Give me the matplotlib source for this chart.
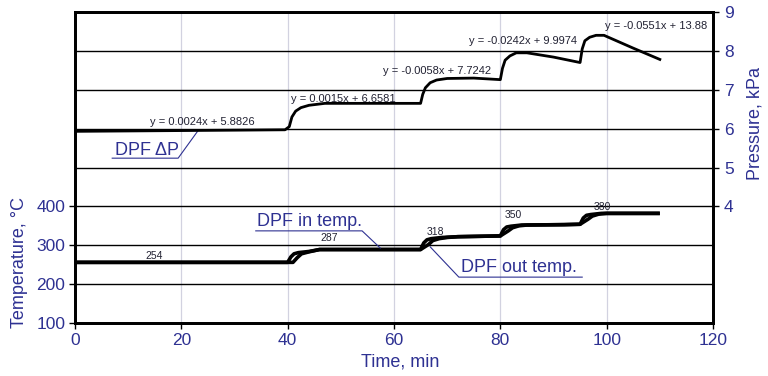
import matplotlib.pyplot as plt

plt.rcParams['font.family'] = ['Liberation Sans', 'DejaVu Sans']

navy = '#2E3192'

# DPF pressure drop, kPa
time_p = [0, 10, 20, 30, 39.5, 40.3, 40.8, 41.5, 42.5, 44, 47, 55, 60, 65,
          65.4, 65.9, 66.8, 68, 70, 75, 80, 80.4, 80.9, 81.8, 83, 85, 90, 95,
          95.4, 95.9, 96.8, 98, 99.5, 105, 110]
pressure = [5.93, 5.94, 5.95, 5.96, 5.97, 6.05, 6.30, 6.45, 6.54, 6.60, 6.65, 6.65, 6.65, 6.65,
            6.88, 7.05, 7.18, 7.25, 7.29, 7.30, 7.26, 7.55, 7.76, 7.87, 7.95, 7.95, 7.84, 7.70,
            8.05, 8.26, 8.35, 8.40, 8.40, 8.07, 7.78]

# DPF inlet / outlet temperature, C
time_in = [0, 40, 40.6, 41.2, 42, 44, 46, 65, 65.6, 66.2, 67, 69, 72, 80, 80.6,
           81.2, 82, 84, 92, 95, 95.6, 96.2, 97, 99, 110]
temp_in = [256, 256, 270, 278, 281, 284, 289, 289, 306, 314, 317, 320, 322, 324, 340,
           347, 349, 352, 353, 354, 370, 377, 379, 382, 382]
time_out = [0, 41, 41.8, 42.6, 44, 46, 65, 66.5, 67.3, 68.5, 70, 72, 80, 81.5, 82.3,
            83.5, 85, 92, 95, 96.5, 97.3, 98.5, 100, 110]
temp_out = [256, 256, 268, 278, 283, 289, 289, 302, 312, 317, 320, 322, 324, 337, 345,
            350, 352, 353, 354, 367, 375, 380, 382, 382]

# trend line equations for each pressure step
eq_text = ['y = 0.0024x + 5.8826', 'y = 0.0015x + 6.6581', 'y = -0.0058x + 7.7242',
           'y = -0.0242x + 9.9974', 'y = -0.0551x + 13.88']
eq_pos = [(24.0, 6.17), (50.4, 6.76), (68.1, 7.48), (84.3, 8.25), (109.3, 8.64)]

# plateau temperature labels
temp_labels = ['254', '287', '318', '350', '380']
temp_label_pos = [(14.8, 272), (47.8, 319), (67.7, 334), (82.4, 378), (99.1, 398)]

fig = plt.figure(figsize=(7.68, 3.76), dpi=100)
ax = fig.add_axes([75 / 768, 53 / 376, 638 / 768, 311 / 376])
ax2 = ax.twinx()

ax.set_xlim(0, 120)
ax.set_ylim(100, 900)
ax2.set_ylim(1, 9)

# temperature traces
ax.plot(time_out, temp_out, color='black', lw=2.6, solid_capstyle='butt')
ax.plot(time_in, temp_in, color='black', lw=2.6, solid_capstyle='butt')

# pressure trace
ax2.plot(time_p, pressure, color='black', lw=2)

# ticks and grid
ax.set_xticks(range(0, 121, 20))
ax.set_yticks([100, 200, 300, 400])
ax.set_yticks([500, 600, 700, 800, 900], minor=True)
ax.grid(axis='y', which='both', color='black', lw=1)
ax.grid(axis='x', color='#d2d2e0', lw=0.9)
ax.tick_params(axis='y', which='minor', length=0)
ax.tick_params(axis='both', which='major', direction='out', length=4, width=1,
               labelsize=12.5, labelcolor=navy, pad=3)
ax2.set_yticks([4, 5, 6, 7, 8, 9])
ax2.tick_params(axis='y', direction='out', length=4, width=1, labelsize=12.5,
                labelcolor=navy, pad=4)
ax.set_axisbelow(True)

for a in (ax, ax2):
    for s in a.spines.values():
        s.set_linewidth(2)
        s.set_color('black')

# equations and value labels
for txt, (x, y) in zip(eq_text, eq_pos):
    ax2.text(x, y, txt, fontsize=8, ha='center', va='center', color='#222233')
for txt, (x, y) in zip(temp_labels, temp_label_pos):
    ax.text(x, y, txt, fontsize=7.5, ha='center', va='center', color='#222233')

# series callouts with underline leaders
ax.text(7.5, 545, 'DPF \u0394P', fontsize=13, color=navy, va='center')
ax.plot([7.0, 19.4, 23.1], [524, 524, 594], color=navy, lw=0.8)
ax.text(34.2, 360, 'DPF in temp.', fontsize=13, color=navy, va='center')
ax.plot([34.0, 54.0, 57.4], [337, 337, 293], color=navy, lw=0.8)
ax.text(72.6, 244, 'DPF out temp.', fontsize=13, color=navy, va='center')
ax.plot([95.4, 72.2, 66.8], [218, 218, 296], color=navy, lw=0.8)

fig.text(20 / 768, 1 - 263 / 376, 'Temperature, \u00b0C', rotation=90, fontsize=13,
         color=navy, ha='center', va='center')
fig.text(755 / 768, 1 - 123 / 376, 'Pressure, kPa', rotation=90, fontsize=13,
         color=navy, ha='center', va='center')
fig.text(400 / 768, 1 - 362 / 376, 'Time, min', fontsize=13, color=navy,
         ha='center', va='center')

fig.savefig('out.png', dpi=100)
